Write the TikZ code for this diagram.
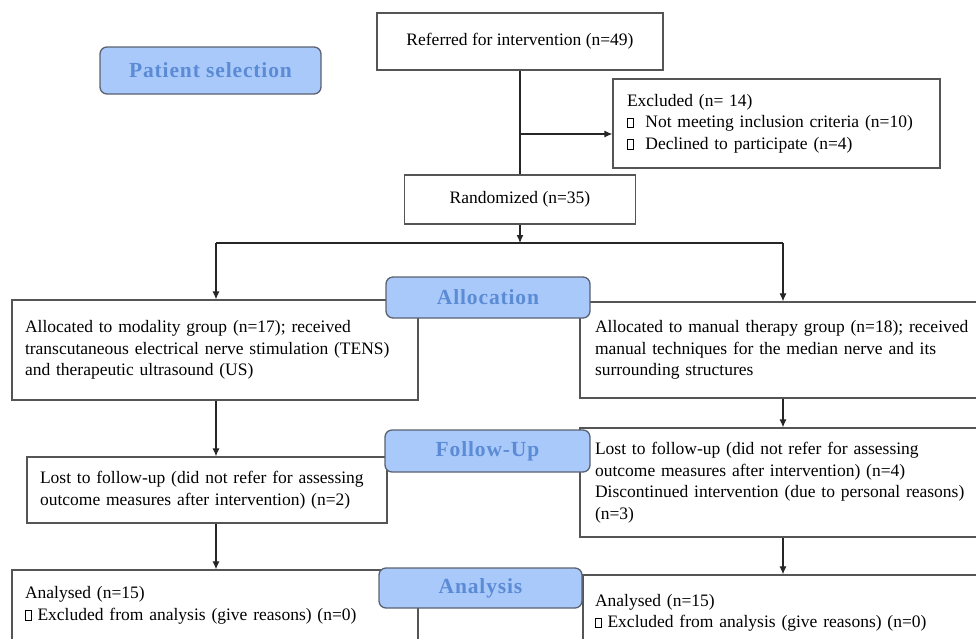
\documentclass[tikz,border=0pt]{standalone}
\usepackage{fontspec}
\setmainfont{Liberation Serif}
\newfontfamily\stagefont[LetterSpace=4]{Liberation Serif}
\usetikzlibrary{arrows.meta}
\definecolor{stagefill}{HTML}{A9C9FB}
\definecolor{stagetext}{HTML}{5B8BD5}
\definecolor{stageline}{HTML}{5A6270}
\definecolor{boxline}{HTML}{555555}
\newcommand{\sqb}{\raisebox{0.5pt}{\fboxsep=0pt\fboxrule=0.6pt\fbox{\rule{0pt}{9pt}\hspace{5.5pt}}}}
\tikzset{
  box/.style={draw=boxline,line width=1.3pt,rectangle,align=left,inner ysep=0pt,
    font=\fontsize{17.5}{21.5}\selectfont},
  stage/.style={draw=stageline,fill=stagefill,line width=1.3pt,rounded corners=7pt,
    text=stagetext,inner sep=0pt,font=\stagefont\fontsize{21.5}{22}\selectfont\bfseries},
  link/.style={draw=black!85,line width=1.1pt},
  arr/.style={link,-{Latex[length=8pt,width=7pt]}}
}
\begin{document}
\begin{tikzpicture}[x=1pt,y=-1pt]
\useasboundingbox (0,0) rectangle (976,638);
\clip (0,0) rectangle (976,638);

\node[box,align=center,minimum width=286,minimum height=57] (refer) at (520,41.5) {Referred for intervention (n=49)};
\node[box,minimum width=327,minimum height=89,inner xsep=14,text width=299] (excl) at (776.5,123.5)
  {Excluded (n= 14)\\ \sqb\ \ Not meeting inclusion criteria (n=10)\\ \sqb\ \ Declined to participate (n=4)\\[-5pt]};
\node[box,align=center,minimum width=231,minimum height=49] (rand) at (520,199.5) {Randomized (n=35)};

\node[box,minimum width=406,minimum height=100,inner xsep=13,text width=380] (modal) at (215,350)
  {Allocated to modality group (n=17); received\\ transcutaneous electrical nerve stimulation (TENS)\\ and therapeutic ultrasound (US)};
\node[box,minimum width=420,minimum height=96,inner xsep=15,text width=390] (manual) at (790,350)
  {Allocated to manual therapy group (n=18); received\\ manual techniques for the median nerve and its\\ surrounding structures};

\node[box,minimum width=360,minimum height=66,inner xsep=13,text width=334] (lostL) at (207,490)
  {Lost to follow-up (did not refer for assessing\\ outcome measures after intervention) (n=2)};
\node[box,minimum width=420,minimum height=109,inner xsep=15,text width=390] (lostR) at (790,482.5)
  {Lost to follow-up (did not refer for assessing\\ outcome measures after intervention) (n=4)\\ Discontinued intervention (due to personal reasons)\\ (n=3)};

\node[box,minimum width=406,minimum height=71,inner xsep=13,text width=380] (anaL) at (215,605.5)
  {Analysed (n=15)\\ \sqb\ Excluded from analysis (give reasons) (n=0)};
\node[box,minimum width=417,minimum height=76,inner xsep=12,text width=393] (anaR) at (791.5,613)
  {Analysed (n=15)\\ \sqb\ Excluded from analysis (give reasons) (n=0)};

\coordinate (branch) at (520,134);
\coordinate (split) at (520,243);
\coordinate (lcol) at (216,243);
\coordinate (rcol) at (783,243);

\draw[link] (refer.south) -- (rand.north);
\draw[arr] (branch) -- (branch -| excl.west);
\draw[arr] (rand.south) -- (split);
\draw[link] (lcol) -- (rcol);
\draw[arr] (lcol) -- (lcol |- modal.north);
\draw[arr] (rcol) -- (rcol |- manual.north);
\draw[arr] (modal.south -| lcol) -- (lcol |- lostL.north);
\draw[arr] (lostL.south -| lcol) -- (lcol |- anaL.north);
\draw[arr] (manual.south -| rcol) -- (rcol |- lostR.north);
\draw[arr] (lostR.south -| rcol) -- (rcol |- anaR.north);

\node[stage,minimum width=221,minimum height=47] (select) at (210.5,70.5) {Patient selection};
\node[stage,minimum width=204,minimum height=41] (alloc) at (488,297.5) {Allocation};
\node[stage,minimum width=205,minimum height=42] (follow) at (487.5,451) {Follow-Up};
\node[stage,minimum width=203,minimum height=40] (anal) at (480.5,588) {Analysis};
\end{tikzpicture}
\end{document}
